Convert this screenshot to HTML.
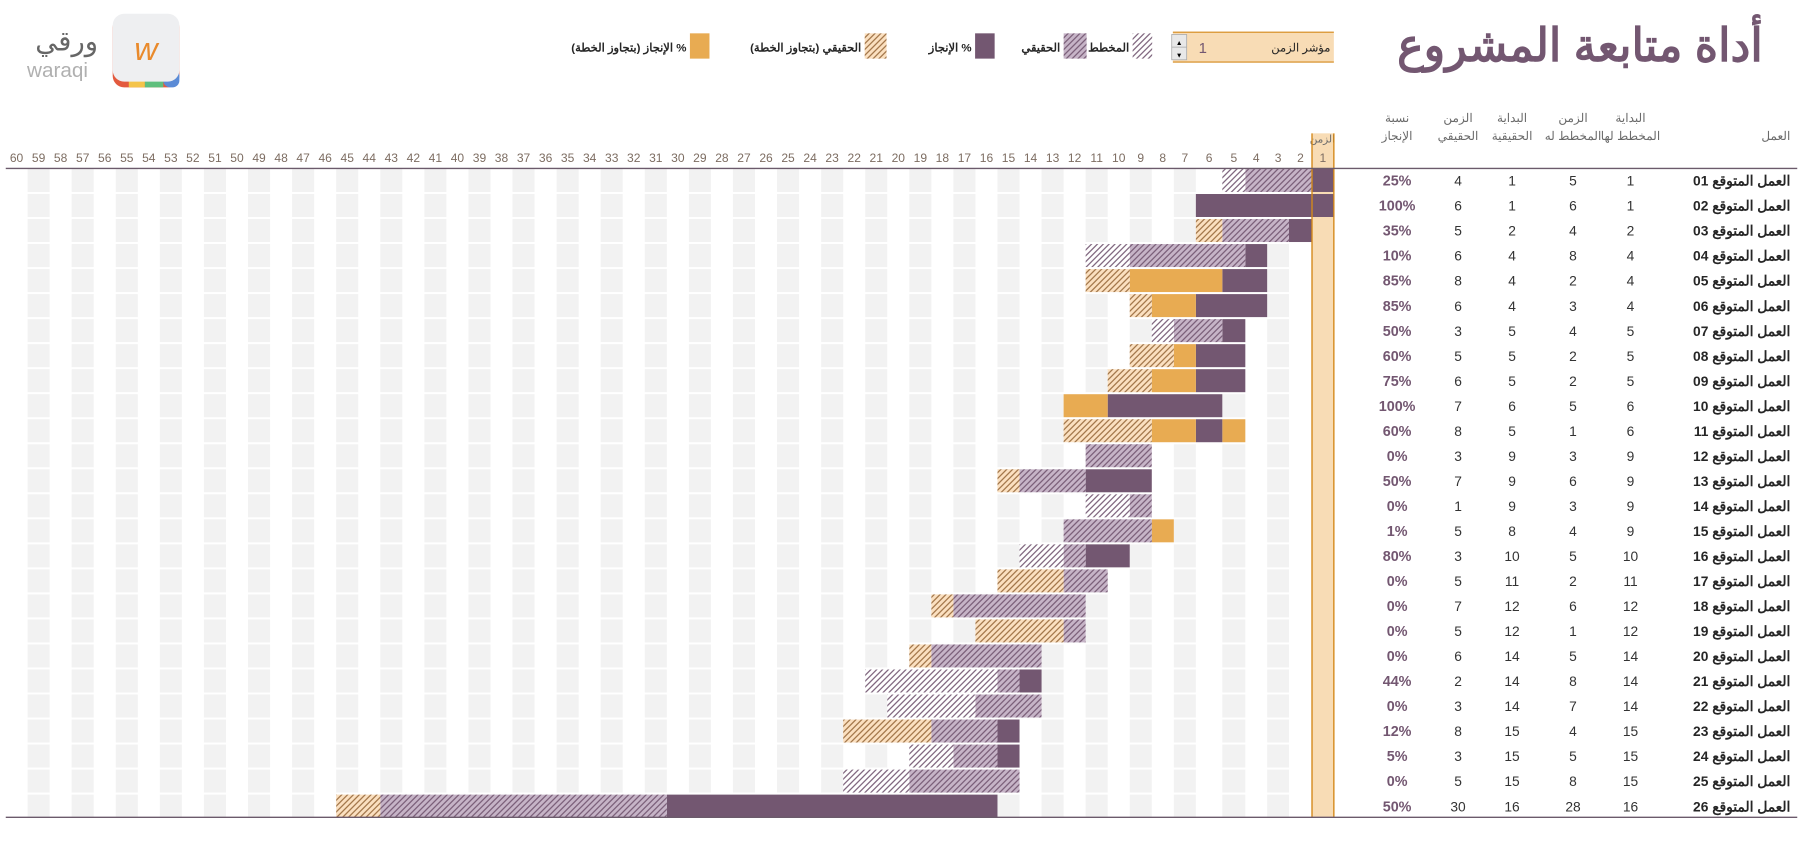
<!DOCTYPE html>
<html><head><meta charset="utf-8">
<style>
html,body{margin:0;padding:0;background:#fff;}
svg{display:block;}
text{font-family:"Liberation Sans","Noto Sans CJK SC",sans-serif;}
</style></head>
<body>
<svg id="s" xmlns="http://www.w3.org/2000/svg" width="1803" height="861" viewBox="0 0 1568 749" preserveAspectRatio="none">
<defs>
<pattern id="pw" width="3.6" height="3.6" patternUnits="userSpaceOnUse" patternTransform="rotate(45)">
<rect width="3.6" height="3.6" fill="#ffffff"/><line x1="0.6" y1="0" x2="0.6" y2="3.6" stroke="#735771" stroke-width="1"/></pattern>
<pattern id="ph" width="3.6" height="3.6" patternUnits="userSpaceOnUse" patternTransform="rotate(45)">
<rect width="3.6" height="3.6" fill="#c6b4c7"/><line x1="0.6" y1="0" x2="0.6" y2="3.6" stroke="#735771" stroke-width="1"/></pattern>
<pattern id="px" width="3.6" height="3.6" patternUnits="userSpaceOnUse" patternTransform="rotate(45)">
<rect width="3.6" height="3.6" fill="#fbe0c0"/><line x1="0.6" y1="0" x2="0.6" y2="3.6" stroke="#9a6c3e" stroke-width="1"/></pattern>
</defs>
<g id="g"></g>
</svg>
<script>
var NS="http://www.w3.org/2000/svg",g=document.getElementById('g');
function el(t,a,txt){var e=document.createElementNS(NS,t);for(var k in a)e.setAttribute(k,a[k]);if(txt!=null)e.textContent=txt;g.appendChild(e);return e;}
function L(n){var m={1:1141,2:1121,3:1102,4:1083,5:1063,6:1040};return m[n]!=null?m[n]:1040-(n-6)*19.17;}
function R(n){return n==1?1160:L(n-1);}
function T(i){return 147+i*21.77;}
el('rect',{x:1141,y:116,width:19,height:595,fill:'#f8dcb5'});
for(var i=0;i<26;i++){for(var n=3;n<=59;n+=2){el('rect',{x:L(n),y:T(i),width:R(n)-L(n),height:20,fill:'#f2f2f2'});}}
for(var n=1;n<=60;n++){el('text',{x:(L(n)+R(n))/2,y:141,'font-size':10.5,'text-anchor':'middle',fill:'#7d6d62'},n);}
el('text',{x:1150,y:124,'font-size':9,'text-anchor':'middle',fill:'#6a6a6a'},'الزمن');
var F={W:'url(#pw)',H:'url(#ph)',S:'#735771',O:'#e8ab52',X:'url(#px)'};
var B=[
[['S',1,1],['H',2,4],['W',5,5]],
[['S',1,6]],
[['S',2,2],['H',3,5],['X',6,6]],
[['S',4,4],['H',5,9],['W',10,11]],
[['S',4,5],['O',6,9],['X',10,11]],
[['S',4,6],['O',7,8],['X',9,9]],
[['S',5,5],['H',6,7],['W',8,8]],
[['S',5,6],['O',7,7],['X',8,9]],
[['S',5,6],['O',7,8],['X',9,10]],
[['S',6,10],['O',11,12]],
[['O',5,5],['S',6,6],['O',7,8],['X',9,12]],
[['H',9,11]],
[['S',9,11],['H',12,14],['X',15,15]],
[['H',9,9],['W',10,11]],
[['O',8,8],['H',9,12]],
[['S',10,11],['H',12,12],['W',13,14]],
[['H',11,12],['X',13,15]],
[['H',12,17],['X',18,18]],
[['H',12,12],['X',13,16]],
[['H',14,18],['X',19,19]],
[['S',14,14],['H',15,15],['W',16,21]],
[['H',14,16],['W',17,20]],
[['S',15,15],['H',16,18],['X',19,22]],
[['S',15,15],['H',16,17],['W',18,19]],
[['H',15,19],['W',20,22]],
[['S',16,30],['H',31,43],['X',44,45]]];
B.forEach(function(r,i){r.forEach(function(s){el('rect',{x:L(s[2]),y:T(i),width:R(s[1])-L(s[2]),height:20,fill:F[s[0]]});});});
el('line',{x1:1141,y1:116,x2:1141,y2:711,stroke:'#d4891a','stroke-width':1.2});
el('line',{x1:1160,y1:116,x2:1160,y2:711,stroke:'#d4891a','stroke-width':1.2});
el('line',{x1:5,y1:146.5,x2:1563,y2:146.5,stroke:'#6b5a6b','stroke-width':1.2});
el('line',{x1:5,y1:711,x2:1563,y2:711,stroke:'#6b5a6b','stroke-width':1.2});
var hc='#6a6a6a';
[[1418,'البداية','المخطط لها'],[1368,'الزمن','المخطط له'],[1315,'البداية','الحقيقية'],[1268,'الزمن','الحقيقي'],[1215,'نسبة','الإنجاز']].forEach(function(h){
el('text',{x:h[0],y:106,'font-size':10.5,'text-anchor':'middle',fill:hc},h[1]);
el('text',{x:h[0],y:122,'font-size':10.5,'text-anchor':'middle',fill:hc},h[2]);});
el('text',{x:1557,y:122,'font-size':10.5,'text-anchor':'end',fill:hc},'العمل');
var D=[[1,5,1,4,25],[1,6,1,6,100],[2,4,2,5,35],[4,8,4,6,10],[4,2,4,8,85],[4,3,4,6,85],[5,4,5,3,50],[5,2,5,5,60],[5,2,5,6,75],[6,5,6,7,100],[6,1,5,8,60],[9,3,9,3,0],[9,6,9,7,50],[9,3,9,1,0],[9,4,8,5,1],[10,5,10,3,80],[11,2,11,5,0],[12,6,12,7,0],[12,1,12,5,0],[14,5,14,6,0],[14,8,14,2,44],[14,7,14,3,0],[15,4,15,8,12],[15,5,15,3,5],[15,8,15,5,0],[16,28,16,30,50]];
D.forEach(function(d,i){var y=T(i)+14.5;
el('text',{x:1557,y:y,'font-size':12,'font-weight':'bold','text-anchor':'end',fill:'#262626'},'العمل المتوقع '+(i<9?'0':'')+(i+1));
el('text',{x:1418,y:y,'font-size':12,'text-anchor':'middle',fill:'#333'},d[0]);
el('text',{x:1368,y:y,'font-size':12,'text-anchor':'middle',fill:'#333'},d[1]);
el('text',{x:1315,y:y,'font-size':12,'text-anchor':'middle',fill:'#333'},d[2]);
el('text',{x:1268,y:y,'font-size':12,'text-anchor':'middle',fill:'#333'},d[3]);
el('text',{x:1215,y:y,'font-size':12.5,'font-weight':'bold','text-anchor':'middle',fill:'#735771'},d[4]+'%');});
el('text',{x:1533,y:53,'font-size':40,'font-weight':'bold','text-anchor':'end',fill:'#735771',textLength:318,lengthAdjust:'spacingAndGlyphs'},'أداة متابعة المشروع');
el('rect',{x:1020,y:28,width:140,height:26,fill:'#f8dcb5'});
el('line',{x1:1020,y1:28,x2:1160,y2:28,stroke:'#d4891a','stroke-width':1});
el('line',{x1:1020,y1:54,x2:1160,y2:54,stroke:'#d4891a','stroke-width':1});
el('rect',{x:1019,y:30,width:13,height:22,fill:'#e8e8e8',stroke:'#aaa','stroke-width':0.7});
el('line',{x1:1019,y1:41,x2:1032,y2:41,stroke:'#aaa','stroke-width':0.7});
el('text',{x:1025.5,y:39,'font-size':6,'text-anchor':'middle',fill:'#000'},'▲');
el('text',{x:1025.5,y:50,'font-size':6,'text-anchor':'middle',fill:'#000'},'▼');
el('text',{x:1046,y:46,'font-size':13,'text-anchor':'middle',fill:'#735771'},'1');
el('text',{x:1157,y:45,'font-size':10,'text-anchor':'end',fill:'#222'},'مؤشر الزمن');
function lg(x,w,f,t,tx){el('rect',{x:x,y:29,width:w,height:22,fill:f});el('text',{x:tx,y:45,'font-size':10,'font-weight':'bold','text-anchor':'start',direction:'rtl',fill:'#262626'},t);}
lg(985,17,'url(#pw)','المخطط',982);
lg(925,20,'url(#ph)','الحقيقي',922);
lg(848,17,'#735771','% الإنجاز',845);
lg(752,19,'url(#px)','الحقيقي (بتجاوز الخطة)',749);
lg(600,17,'#e8ab52','% الإنجاز (بتجاوز الخطة)',597);
el('rect',{x:98,y:14,width:58,height:62,rx:10,fill:'#e35a3e'});
el('rect',{x:112,y:66,width:14,height:10,fill:'#f4c44a'});
el('rect',{x:126,y:66,width:16,height:10,fill:'#5fbf7d'});
el('rect',{x:142,y:60,width:14,height:16,rx:6,fill:'#5b8bd6'});
el('rect',{x:98,y:12,width:58,height:59,rx:10,fill:'#eeeff1'});
el('text',{x:127,y:52,'font-size':28,'font-style':'italic','text-anchor':'middle',fill:'#e98a2c'},'w');
el('text',{x:58,y:44,'font-size':24,'text-anchor':'middle',fill:'#666'},'ورقي');
el('text',{x:50,y:67,'font-size':18,'text-anchor':'middle',fill:'#b0b0b0'},'waraqi');
</script>
</body></html>
